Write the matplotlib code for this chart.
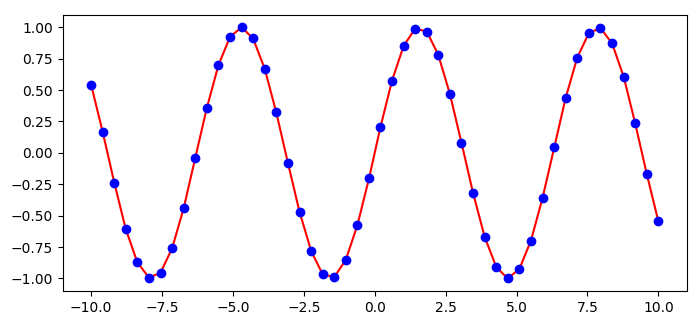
import matplotlib
matplotlib.use('Agg')
import matplotlib.pyplot as plt

# titik-titik yang dibaca dari gambar
x = [-10.00, -9.59, -9.18, -8.78, -8.37, -7.96, -7.55, -7.14, -6.73, -6.33,
     -5.92, -5.51, -5.10, -4.69, -4.29, -3.88, -3.47, -3.06, -2.65, -2.24,
     -1.84, -1.43, -1.02, -0.61, -0.20, 0.20, 0.61, 1.02, 1.43, 1.84,
     2.24, 2.65, 3.06, 3.47, 3.88, 4.29, 4.69, 5.10, 5.51, 5.92,
     6.33, 6.73, 7.14, 7.55, 7.96, 8.37, 8.78, 9.18, 9.59, 10.00]
y = [0.544, 0.166, -0.239, -0.605, -0.871, -0.994, -0.954, -0.758, -0.436, -0.043,
     0.357, 0.698, 0.925, 1.000, 0.911, 0.671, 0.322, -0.080, -0.470, -0.781,
     -0.965, -0.990, -0.852, -0.575, -0.203, 0.203, 0.575, 0.852, 0.990, 0.965,
     0.781, 0.470, 0.080, -0.322, -0.671, -0.911, -1.000, -0.925, -0.698, -0.357,
     0.043, 0.436, 0.758, 0.954, 0.994, 0.871, 0.605, 0.239, -0.166, -0.544]

fig, ax = plt.subplots(figsize=(7, 3.27), dpi=100)
fig.subplots_adjust(left=0.0896, right=0.981, top=0.955, bottom=0.11)

ax.plot(x, y, 'r-')
ax.plot(x, y, 'bo')

plt.savefig('out.png')
